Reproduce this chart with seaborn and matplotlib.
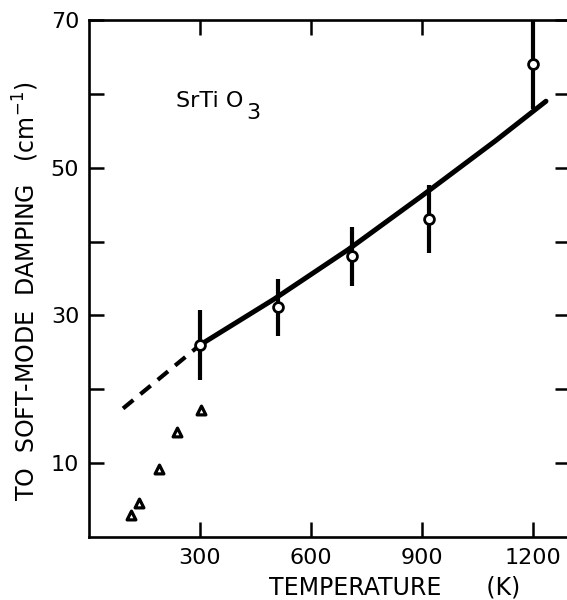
import matplotlib
matplotlib.use("Agg")
import matplotlib.pyplot as plt
import seaborn as sns
import pandas as pd

# ---- data ----
temp_circles = [300, 510, 710, 920, 1200]
damp_circles = [26.0, 31.1, 38.0, 43.1, 64.0]
err_circles = [4.7, 3.9, 4.0, 4.6, 6.0]

temp_tri = [113, 135, 189, 238, 303]
damp_tri = [3.0, 4.6, 9.2, 14.2, 17.2]

temp_fit = [300, 500, 700, 900, 1100, 1235]
damp_fit = [26.0, 32.2, 38.9, 46.2, 53.7, 59.0]

temp_dash = [92, 300]
damp_dash = [17.4, 26.0]

x_ticks = [300, 600, 900, 1200]
y_ticks = [10, 20, 30, 40, 50, 60, 70]
y_labels = ["10", "", "30", "", "50", "", "70"]

sns.set_style("ticks")
plt.rcParams["font.family"] = ["DejaVu Sans"]
plt.rcParams["mathtext.default"] = "regular"
plt.rcParams["text.color"] = "black"
plt.rcParams["axes.labelcolor"] = "black"
plt.rcParams["xtick.color"] = "black"
plt.rcParams["ytick.color"] = "black"

fig = plt.figure(figsize=(5.67, 6.0), dpi=100)
ax = fig.add_axes([89 / 567, 1 - 537 / 600, 481 / 567, 517 / 600])

circles = pd.DataFrame({"T": temp_circles, "D": damp_circles})
tris = pd.DataFrame({"T": temp_tri, "D": damp_tri})
fit = pd.DataFrame({"T": temp_fit, "D": damp_fit})
dash = pd.DataFrame({"T": temp_dash, "D": damp_dash})

# error bars
ax.errorbar(temp_circles, damp_circles, yerr=err_circles, fmt="none",
            ecolor="black", elinewidth=3.0, capsize=0, zorder=2)

# fitted line and extrapolation
sns.lineplot(data=fit, x="T", y="D", ax=ax, color="black", linewidth=3.6,
             zorder=3, sort=True)
sns.lineplot(data=dash, x="T", y="D", ax=ax, color="black", linewidth=3.0,
             zorder=3)
ax.lines[-1].set_dashes((3.2, 2.2))

# markers
sns.scatterplot(data=circles, x="T", y="D", ax=ax, marker="o", s=50,
                facecolor="white", edgecolor="black", linewidth=2.0, zorder=4)
sns.scatterplot(data=tris, x="T", y="D", ax=ax, marker="^", s=40,
                facecolor="white", edgecolor="black", linewidth=2.3, zorder=4)

ax.set_xlim(0, 1300)
ax.set_ylim(0, 70)

ax.set_xticks(x_ticks)
ax.set_xticklabels([str(t) for t in x_ticks])
ax.set_yticks(y_ticks)
ax.set_yticklabels(y_labels)

ax.tick_params(axis="both", which="both", direction="in", length=11,
               width=1.8, color="black", labelcolor="black", labelsize=16,
               pad=7, top=True, right=True)
ax.tick_params(axis="x", pad=8)

for sp in ax.spines.values():
    sp.set_linewidth(1.9)
    sp.set_color("black")

ax.set_xlabel("TEMPERATURE      (K)", fontsize=17)
ax.xaxis.set_label_coords(0.635, -0.075)
ax.set_ylabel(r"TO  SOFT-MODE  DAMPING   (cm$^{-1}$)", fontsize=17)
ax.yaxis.set_label_coords(-0.1, 0.475)

t1 = ax.text(235, 59.0, "SrTi O", fontsize=16, ha="left", va="center")
ax.annotate("3", xy=(1, 0), xycoords=t1, xytext=(2, 6),
            textcoords="offset points", fontsize=16, ha="left", va="top")

fig.savefig("out.png", dpi=100)
